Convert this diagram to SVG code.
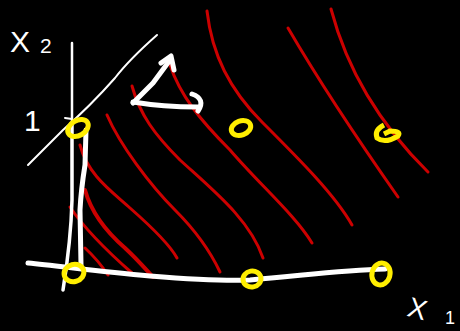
<svg xmlns="http://www.w3.org/2000/svg" width="460" height="331" viewBox="0 0 460 331">
<style>
.red{fill:none;stroke:#cc0000;stroke-width:3;stroke-linecap:round;stroke-linejoin:round}
.wht{fill:none;stroke:#ffffff;stroke-linecap:round;stroke-linejoin:round}
.pt{fill:none;stroke:#ffee00;stroke-width:5}
.lbl{fill:#ffffff;font-family:"Liberation Sans",Arial,sans-serif}
</style>
<rect width="460" height="331" fill="#000"/>
<g id="contours">
<path class="red" d="M331,9 Q355,100 428,172"/>
<path class="red" d="M288,28 Q330,100 398,197"/>
<path class="red" d="M207,11 C212,55 230,90 262,122 C300,160 335,195 352,225"/>
<path class="red" d="M170,65 C180,95 200,120 230,150 C260,185 295,215 312,243"/>
<path class="red" d="M132,86 C140,115 155,135 180,160 C215,192 250,220 263,258"/>
<path class="red" d="M107,115 C120,145 150,185 175,210 C200,235 212,255 220,272"/>
<path class="red" d="M80,145 C88,175 110,190 130,208 C155,230 170,245 177,258"/>
<path class="red" style="stroke-width:4" d="M85,190 C92,215 110,235 125,248 C140,262 148,272 153,277"/>
<path class="red" d="M70,207 C82,225 100,245 132,273"/>
<path class="red" d="M85,248 Q98,260 108,275"/>
</g>
<g id="axes">
<path class="wht" style="stroke-width:2" d="M157,35 C140,50 125,65 115,78 C100,95 80,115 63,130 L28,165"/>
<path class="wht" style="stroke-width:2.5" d="M72,43 L72,125"/>
<path class="wht" style="stroke-width:3.5" d="M72,125 L72,200 Q71,240 63,290"/>
<path class="wht" style="stroke-width:5" d="M86,130 L85,165 Q81,190 80,210 L81,265"/>
<path class="wht" style="stroke-width:2" d="M65,118 L72,119"/>
<path class="wht" style="stroke-width:5" d="M28,263 C60,266 100,272 150,276 C200,280 230,281 250,280 C300,276 340,270 385,269"/>
</g>
<g id="arrow">
<path class="wht" style="stroke-width:5" d="M133,103 L153,83 L170,60"/>
<path class="wht" style="stroke-width:5" d="M161,63 L171,56 L174,70"/>
<path class="wht" style="stroke-width:5" d="M133,102 Q163,107 198,107"/>
<path class="wht" style="stroke-width:5" d="M192,94 Q206,99 198,111"/>
</g>
<g id="points">
<ellipse class="pt" cx="78" cy="128" rx="11" ry="7.5" transform="rotate(-30 78 128)"/>
<ellipse class="pt" cx="241" cy="128" rx="10" ry="7" transform="rotate(-20 241 128)"/>
<path class="pt" d="M384,125 Q374,130 377,138 Q385,144 398,136 Q402,131 390,131 L384,134"/>
<ellipse class="pt" cx="74" cy="273" rx="10" ry="8.5" transform="rotate(-15 74 273)"/>
<ellipse class="pt" cx="252" cy="279" rx="9" ry="8" transform="rotate(-10 252 279)"/>
<ellipse class="pt" cx="381" cy="274" rx="9" ry="11" transform="rotate(15 381 274)"/>
</g>
<g id="labels">
<text class="lbl" x="10" y="52" font-size="30">X</text>
<text class="lbl" x="40" y="53" font-size="21">2</text>
<text class="lbl" x="24" y="131" font-size="30">1</text>
<text class="lbl" x="408" y="320" font-size="28" transform="rotate(15 424 310)">X</text>
<text class="lbl" x="445" y="324" font-size="18">1</text>
</g>
</svg>
